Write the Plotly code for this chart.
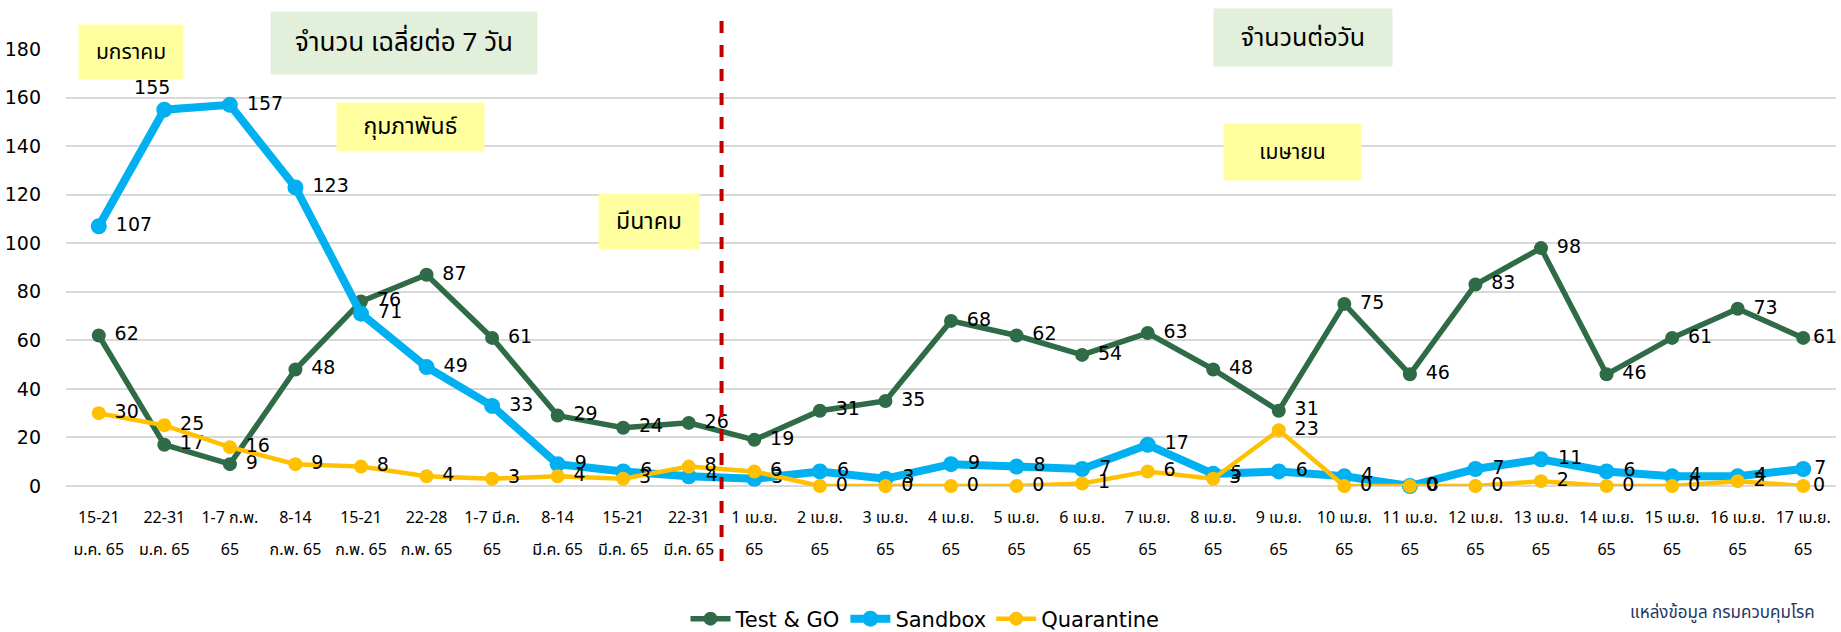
import plotly.graph_objects as go

# ---------------- data ----------------
line1 = ["15-21", "22-31", "1-7 ก.พ.", "8-14", "15-21", "22-28", "1-7 มี.ค.", "8-14", "15-21", "22-31",
         "1 เม.ย.", "2 เม.ย.", "3 เม.ย.", "4 เม.ย.", "5 เม.ย.", "6 เม.ย.", "7 เม.ย.", "8 เม.ย.", "9 เม.ย.",
         "10 เม.ย.", "11 เม.ย.", "12 เม.ย.", "13 เม.ย.", "14 เม.ย.", "15 เม.ย.", "16 เม.ย.", "17 เม.ย."]
line2 = ["ม.ค. 65", "ม.ค. 65", "65", "ก.พ. 65", "ก.พ. 65", "ก.พ. 65", "65", "มี.ค. 65", "มี.ค. 65", "มี.ค. 65",
         "65", "65", "65", "65", "65", "65", "65", "65", "65",
         "65", "65", "65", "65", "65", "65", "65", "65"]
categories = [f"{a} {b}" for a, b in zip(line1, line2)]

test_go = [62, 17, 9, 48, 76, 87, 61, 29, 24, 26, 19, 31, 35, 68, 62, 54, 63, 48, 31, 75, 46, 83, 98, 46, 61, 73, 61]
sandbox = [107, 155, 157, 123, 71, 49, 33, 9, 6, 4, 3, 6, 3, 9, 8, 7, 17, 5, 6, 4, 0, 7, 11, 6, 4, 4, 7]
quarantine = [30, 25, 16, 9, 8, 4, 3, 4, 3, 8, 6, 0, 0, 0, 0, 1, 6, 3, 23, 0, 0, 0, 2, 0, 0, 2, 0]

y_ticks = [0, 20, 40, 60, 80, 100, 120, 140, 160, 180]

# ---------------- layout helpers (pixel coordinates) ----------------
W, H = 1841, 632
L, R, T, B = 66, 1836, 49, 486


def px(x):
    return (x - L) / (R - L)


def py(y):
    return (B - y) / (B - T)


THAI = "Tahoma, 'Noto Sans Thai', 'DejaVu Sans', sans-serif"
NUM = "Tahoma, 'DejaVu Sans', sans-serif"
LABEL_FONT = dict(family=NUM, size=19, color="#000000")
NB = "\u00a0"


def labels(values):
    return [NB + str(v) for v in values]


fig = go.Figure()

sandbox_pos = ["middle right"] * len(sandbox)
sandbox_pos[1] = "top center"
sandbox_txt = labels(sandbox)
sandbox_txt[1] = str(sandbox[1]) + NB * 4
sandbox_txt[-1] = str(sandbox[-1])
test_txt = labels(test_go)
test_txt[-1] = str(test_go[-1])
quar_txt = labels(quarantine)
quar_txt[-1] = str(quarantine[-1])

fig.add_trace(go.Scatter(
    x=categories, y=test_go, name="Test & GO", mode="lines+markers+text",
    line=dict(color="#2E6B46", width=5.5), marker=dict(size=14, color="#2E6B46"),
    text=test_txt, textposition="middle right", textfont=LABEL_FONT,
    cliponaxis=False))
fig.add_trace(go.Scatter(
    x=categories, y=sandbox, name="Sandbox", mode="lines+markers+text",
    line=dict(color="#00B0F0", width=8), marker=dict(size=16, color="#00B0F0"),
    text=sandbox_txt, textposition=sandbox_pos, textfont=LABEL_FONT,
    cliponaxis=False))
fig.add_trace(go.Scatter(
    x=categories, y=quarantine, name="Quarantine", mode="lines+markers+text",
    line=dict(color="#FFC000", width=4.5), marker=dict(size=14, color="#FFC000"),
    text=quar_txt, textposition="middle right", textfont=LABEL_FONT,
    cliponaxis=False))
# invisible trace that carries the second line of x labels
fig.add_trace(go.Scatter(x=categories, y=[None] * len(categories), xaxis="x2",
                         showlegend=False, hoverinfo="skip", mode="lines"))

# red dashed divider between weekly and daily data
fig.add_shape(type="line", xref="x", yref="paper", x0=9.5, x1=9.5,
              y0=py(561), y1=py(9), line=dict(color="#C00000", width=4, dash="dash"))


def box(text, cx, cy, w, h, bg, size):
    fig.add_annotation(text=text, xref="paper", yref="paper", x=px(cx), y=py(cy),
                       xanchor="center", yanchor="middle", showarrow=False,
                       width=w, height=h, bgcolor=bg, borderpad=0,
                       font=dict(family=THAI, size=size, color="#000000"))


YEL = "#FFFF9F"
GRN = "#E2EFDA"
box("มกราคม", 131, 52, 104, 54, YEL, 21)
box("จำนวน เฉลี่ยต่อ 7 วัน", 404, 43, 266, 62, GRN, 26)
box("กุมภาพันธ์", 410, 127, 147, 48, YEL, 23)
box("มีนาคม", 649, 222, 100, 55, YEL, 23)
box("จำนวนต่อวัน", 1303, 37, 178, 57, GRN, 25)
box("เมษายน", 1292, 152, 137, 56, YEL, 21)

fig.add_annotation(text="แหล่งข้อมูล กรมควบคุมโรค", xref="paper", yref="paper",
                   x=px(1817), y=py(613), xanchor="right", yanchor="middle", showarrow=False,
                   font=dict(family=THAI, size=17, color="#1F3864"))

fig.update_layout(
    width=W, height=H,
    margin=dict(l=L, r=W - R, t=T, b=H - B, autoexpand=False),
    plot_bgcolor="white", paper_bgcolor="white",
    showlegend=True,
    legend=dict(orientation="h", x=px(925), xanchor="center", y=py(619), yanchor="middle",
                font=dict(family=NUM, size=21, color="#000000"), itemwidth=40),
    xaxis=dict(type="category", categoryarray=categories, range=[-0.5, 26.5],
               tickvals=categories, ticktext=line1, ticks="", showgrid=False,
               showline=False, zeroline=False, ticklabelstandoff=20, automargin=False,
               tickfont=dict(family=THAI, size=16, color="#000000")),
    xaxis2=dict(type="category", categoryarray=categories, range=[-0.5, 26.5],
                overlaying="x", anchor="y", side="bottom", automargin=False,
                tickvals=categories, ticktext=line2, ticks="", showgrid=False,
                showline=False, zeroline=False, ticklabelstandoff=52,
                tickfont=dict(family=THAI, size=16, color="#000000")),
    yaxis=dict(range=[0, 180], tickvals=y_ticks, showgrid=True, gridcolor="#D9D9D9",
               gridwidth=1.5, zeroline=True, zerolinecolor="#D9D9D9", zerolinewidth=1.5,
               ticks="", ticklabelstandoff=24, automargin=False,
               tickfont=dict(family=NUM, size=19, color="#000000")),
)

# remove the page's default body margin so the figure fills the window exactly
fig.write_html("out.html", config={"displayModeBar": False},
               post_script="document.body.style.margin='0';document.body.style.overflow='hidden';")
